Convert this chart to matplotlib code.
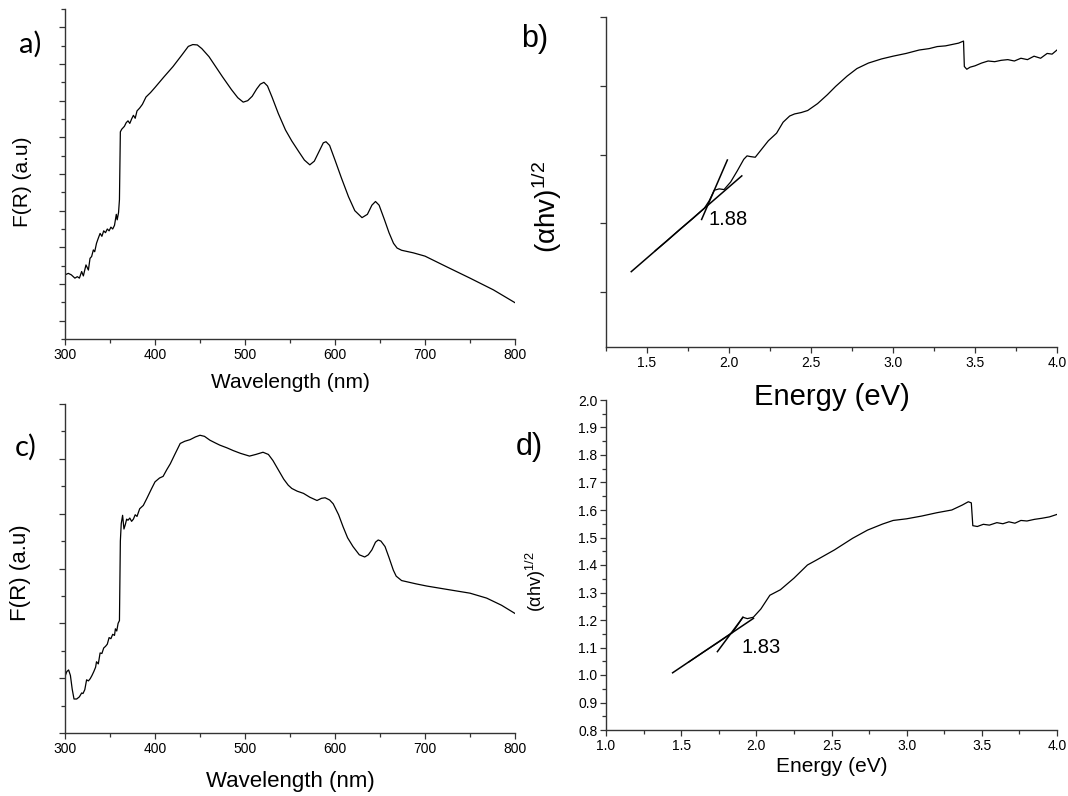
import matplotlib
matplotlib.use('Agg')
import matplotlib.pyplot as plt
from matplotlib.ticker import MultipleLocator, NullFormatter

plt.rcParams['font.family'] = ['Liberation Sans', 'DejaVu Sans']
plt.rcParams['mathtext.fontset'] = 'custom'
plt.rcParams['mathtext.rm'] = 'Liberation Sans'
plt.rcParams['mathtext.default'] = 'regular'

# ---- data ----
# panel a: F(R) vs wavelength (arbitrary units)
a_nm = [300, 303.7, 307, 311, 313.7, 316, 318.5, 320.4, 323.3, 326, 327.8, 329.6, 331.5, 333, 335, 337, 339,
        341, 343, 345, 347, 349, 351, 353, 355, 357, 358, 359.5, 360.5, 361.5, 363, 366, 368, 370, 372, 374,
        376, 378, 380, 383, 386, 390, 395, 400, 410, 420, 430, 437, 442, 447, 452, 460, 475, 485, 492, 498,
        503, 508, 513, 517, 521, 525, 530, 537, 545, 552, 560, 566, 572, 577, 582, 587, 590, 594, 600, 607,
        615, 622, 630, 636, 641, 645, 649, 655, 660, 665, 669, 674, 687, 700, 724, 750, 776, 800]
a_val = [1.25, 1.29, 1.25, 1.16, 1.20, 1.16, 1.34, 1.22, 1.52, 1.38, 1.70, 1.75, 1.93, 1.88, 2.11, 2.25, 2.38,
         2.30, 2.45, 2.40, 2.50, 2.45, 2.55, 2.50, 2.60, 2.90, 2.75, 2.95, 3.30, 5.15, 5.22, 5.30, 5.40, 5.45,
         5.38, 5.50, 5.60, 5.52, 5.72, 5.80, 5.90, 6.10, 6.22, 6.36, 6.65, 6.93, 7.25, 7.48, 7.53, 7.52, 7.42,
         7.20, 6.65, 6.30, 6.08, 5.96, 6.00, 6.12, 6.32, 6.45, 6.50, 6.40, 6.10, 5.65, 5.20, 4.90, 4.60, 4.38,
         4.25, 4.35, 4.60, 4.85, 4.88, 4.78, 4.38, 3.90, 3.38, 3.00, 2.81, 2.90, 3.15, 3.25, 3.15, 2.75, 2.40,
         2.11, 1.98, 1.92, 1.85, 1.76, 1.47, 1.16, 0.84, 0.49]

# panel c: F(R) vs wavelength (arbitrary units)
c_nm = [300, 302, 304, 306, 308, 310, 313, 316, 318.5, 320, 322, 324, 326, 328, 330, 332, 334, 335, 337, 339,
        341, 343, 345, 347, 349, 351, 353, 355, 356, 357.5, 359, 360.5, 361.5, 362.5, 364, 365.5, 367, 368.5,
        370, 372, 374, 376, 378, 380, 383, 387, 391, 396, 400, 405, 409, 413, 417, 422, 428, 433, 439, 445,
        450, 455, 461, 467, 472, 480, 487, 495, 505, 512, 520, 526, 531, 537, 543, 548, 552, 558, 565, 572,
        580, 585, 589, 594, 598, 604, 609, 614, 620, 627, 633, 637, 641, 645, 648, 651, 655.6, 660, 664.8,
        668, 674, 690, 702, 724, 750, 768.5, 785, 800]
c_val = [1.03, 1.12, 1.15, 1.05, 0.80, 0.62, 0.62, 0.66, 0.73, 0.72, 0.79, 0.97, 0.95, 0.99, 1.05, 1.12, 1.20,
         1.30, 1.26, 1.46, 1.45, 1.55, 1.58, 1.62, 1.74, 1.72, 1.80, 1.78, 1.90, 1.86, 2.00, 2.05, 3.50, 3.82,
         3.97, 3.72, 3.80, 3.90, 3.88, 3.92, 3.86, 3.90, 3.98, 3.95, 4.09, 4.15, 4.28, 4.45, 4.58, 4.65, 4.68,
         4.80, 4.91, 5.08, 5.28, 5.32, 5.35, 5.40, 5.43, 5.41, 5.34, 5.29, 5.25, 5.20, 5.15, 5.10, 5.05, 5.08,
         5.12, 5.08, 4.97, 4.80, 4.63, 4.52, 4.46, 4.41, 4.37, 4.30, 4.24, 4.28, 4.29, 4.25, 4.18, 3.98, 3.76,
         3.56, 3.40, 3.25, 3.21, 3.25, 3.34, 3.48, 3.52, 3.50, 3.40, 3.20, 2.97, 2.86, 2.78, 2.72, 2.68, 2.62,
         2.55, 2.46, 2.33, 2.18]

# panel b: Tauc plot (arbitrary units)
b_ev = [1.55, 1.62, 1.70, 1.78, 1.85, 1.88, 1.91, 1.94, 1.97, 2.01, 2.05, 2.09, 2.11, 2.13, 2.16, 2.19, 2.24,
        2.29, 2.33, 2.37, 2.40, 2.44, 2.48, 2.54, 2.60, 2.65, 2.72, 2.78, 2.85, 2.93, 3.00, 3.08, 3.16, 3.22,
        3.27, 3.32, 3.36, 3.40, 3.43, 3.435, 3.45, 3.47, 3.50, 3.54, 3.58, 3.62, 3.66, 3.70, 3.74, 3.78, 3.82,
        3.86, 3.90, 3.94, 3.97, 4.00]
b_val = [1.60, 1.74, 1.91, 2.07, 2.22, 2.33, 2.48, 2.50, 2.49, 2.60, 2.76, 2.93, 2.98, 2.97, 2.96, 3.05, 3.20,
         3.31, 3.47, 3.56, 3.59, 3.61, 3.64, 3.74, 3.87, 3.99, 4.14, 4.25, 4.33, 4.39, 4.43, 4.47, 4.52, 4.54,
         4.57, 4.58, 4.60, 4.62, 4.65, 4.28, 4.24, 4.27, 4.29, 4.33, 4.36, 4.35, 4.37, 4.38, 4.36, 4.40, 4.38,
         4.43, 4.40, 4.47, 4.46, 4.52]
b_fit1_x = [1.404, 2.078]
b_fit1_y = [1.296, 2.689]
b_fit2_x = [1.833, 1.990]
b_fit2_y = [2.055, 2.920]
b_gap = '1.88'

# panel d: Tauc plot
d_ev = [1.55, 1.65, 1.75, 1.84, 1.88, 1.91, 1.94, 1.98, 2.03, 2.09, 2.16, 2.25, 2.34, 2.40, 2.52, 2.64, 2.74,
        2.84, 2.91, 3.00, 3.10, 3.20, 3.30, 3.37, 3.41, 3.43, 3.44, 3.47, 3.51, 3.55, 3.60, 3.64, 3.68, 3.72,
        3.76, 3.80, 3.85, 3.90, 3.95, 4.00]
d_val = [1.047, 1.084, 1.120, 1.154, 1.185, 1.210, 1.205, 1.210, 1.240, 1.290, 1.310, 1.352, 1.400, 1.418,
         1.455, 1.497, 1.527, 1.549, 1.562, 1.568, 1.578, 1.590, 1.600, 1.618, 1.630, 1.626, 1.543, 1.540,
         1.548, 1.545, 1.554, 1.550, 1.557, 1.552, 1.562, 1.560, 1.566, 1.570, 1.575, 1.584]
d_fit1_x = [1.443, 1.981]
d_fit1_y = [1.008, 1.206]
d_fit2_x = [1.741, 1.911]
d_fit2_y = [1.085, 1.210]
d_gap = '1.83'

W, H = 1068, 796


def box(l, t, r, b):
    return [l / W, 1 - b / H, (r - l) / W, (b - t) / H]


def style(ax):
    ax.patch.set_alpha(0)
    ax.spines['top'].set_visible(False)
    ax.spines['right'].set_visible(False)
    for s in ('left', 'bottom'):
        ax.spines[s].set_linewidth(1.0)
        ax.spines[s].set_color('#333333')
    ax.tick_params(which='major', direction='out', length=4.5, width=0.9, pad=1.8,
                   labelsize=10, color='#333333')
    ax.tick_params(which='minor', direction='out', length=2.8, width=0.9, color='#333333')


fig = plt.figure(figsize=(W / 100, H / 100), dpi=100)

# a)
ax_a = fig.add_axes(box(65, 9, 515, 339))
ax_a.plot(a_nm, a_val, color='black', lw=0.9)
ax_a.set_xlim(300, 800)
ax_a.set_ylim(-0.5, 8.5)
ax_a.xaxis.set_major_locator(MultipleLocator(100))
ax_a.xaxis.set_minor_locator(MultipleLocator(50))
ax_a.yaxis.set_major_locator(MultipleLocator(1))
ax_a.yaxis.set_minor_locator(MultipleLocator(0.5))
ax_a.yaxis.set_major_formatter(NullFormatter())
style(ax_a)
ax_a.set_xlabel('Wavelength (nm)', fontsize=15)
ax_a.set_ylabel('F(R) (a.u)', fontsize=15)
ax_a.xaxis.set_label_coords(0.5, -0.133)
ax_a.yaxis.set_label_coords(-0.094, 0.476)
ax_a.xaxis.label.set_va('center')
ax_a.yaxis.label.set_va('center')

# c)
ax_c = fig.add_axes(box(65, 404, 515, 733))
ax_c.plot(c_nm, c_val, color='black', lw=0.9)
ax_c.set_xlim(300, 800)
ax_c.set_ylim(0, 6)
ax_c.xaxis.set_major_locator(MultipleLocator(100))
ax_c.xaxis.set_minor_locator(MultipleLocator(50))
ax_c.yaxis.set_major_locator(MultipleLocator(1))
ax_c.yaxis.set_minor_locator(MultipleLocator(0.5))
ax_c.yaxis.set_major_formatter(NullFormatter())
style(ax_c)
ax_c.set_xlabel('Wavelength (nm)', fontsize=16)
ax_c.set_ylabel('F(R) (a.u)', fontsize=16)
ax_c.xaxis.set_label_coords(0.5, -0.148)
ax_c.yaxis.set_label_coords(-0.098, 0.487)
ax_c.xaxis.label.set_va('center')
ax_c.yaxis.label.set_va('center')

# d) (drawn before b so the big "Energy (eV)" label of b stays on top)
ax_d = fig.add_axes(box(606, 400, 1057, 730))
ax_d.plot(d_ev, d_val, color='black', lw=0.9)
ax_d.plot(d_fit1_x, d_fit1_y, color='black', lw=1.1)
ax_d.plot(d_fit2_x, d_fit2_y, color='black', lw=1.1)
ax_d.text(1.903, 1.10, d_gap, fontsize=14.5, ha='left', va='center')
ax_d.set_xlim(1.0, 4.0)
ax_d.set_ylim(0.8, 2.0)
ax_d.xaxis.set_major_locator(MultipleLocator(0.5))
ax_d.xaxis.set_minor_locator(MultipleLocator(0.25))
ax_d.yaxis.set_major_locator(MultipleLocator(0.1))
ax_d.yaxis.set_minor_locator(MultipleLocator(0.05))
ax_d.yaxis.set_major_formatter(lambda v, p: f'{v:.1f}')
style(ax_d)
ax_d.set_xlabel('Energy (eV)', fontsize=15)
ax_d.set_ylabel(r'(αhv)$^{1/2}$', fontsize=13)
ax_d.xaxis.set_label_coords(0.5, -0.112)
ax_d.yaxis.set_label_coords(-0.155, 0.45)
ax_d.xaxis.label.set_va('center')
ax_d.yaxis.label.set_va('center')

# b)
ax_b = fig.add_axes(box(606, 17, 1057, 347))
ax_b.plot(b_ev, b_val, color='black', lw=0.9)
ax_b.plot(b_fit1_x, b_fit1_y, color='black', lw=1.1)
ax_b.plot(b_fit2_x, b_fit2_y, color='black', lw=1.1)
ax_b.text(1.873, 2.056, b_gap, fontsize=14.5, ha='left', va='center')
ax_b.set_xlim(1.25, 4.0)
ax_b.set_ylim(0.2, 5.0)
ax_b.xaxis.set_major_locator(MultipleLocator(0.5))
ax_b.xaxis.set_minor_locator(MultipleLocator(0.25))
ax_b.set_yticks([1, 2, 3, 4, 5])
ax_b.yaxis.set_major_formatter(NullFormatter())
style(ax_b)
ax_b.set_xlabel('Energy (eV)', fontsize=21)
ax_b.set_ylabel(r'(αhv)$^{1/2}$', fontsize=20)
ax_b.xaxis.set_label_coords(0.5, -0.152)
ax_b.yaxis.set_label_coords(-0.131, 0.424)
ax_b.xaxis.label.set_va('center')
ax_b.yaxis.label.set_va('center')

# panel letters
fig.text(30 / W, 1 - 44 / H, 'a)', fontsize=21, family=['Lato', 'DejaVu Sans'], ha='center', va='center')
fig.text(535 / W, 1 - 39 / H, 'b)', fontsize=22, ha='center', va='center')
fig.text(26 / W, 1 - 447 / H, 'c)', fontsize=21, family=['Lato', 'DejaVu Sans'], ha='center', va='center')
fig.text(529 / W, 1 - 447 / H, 'd)', fontsize=22, ha='center', va='center')

fig.savefig('out.png', dpi=100)
